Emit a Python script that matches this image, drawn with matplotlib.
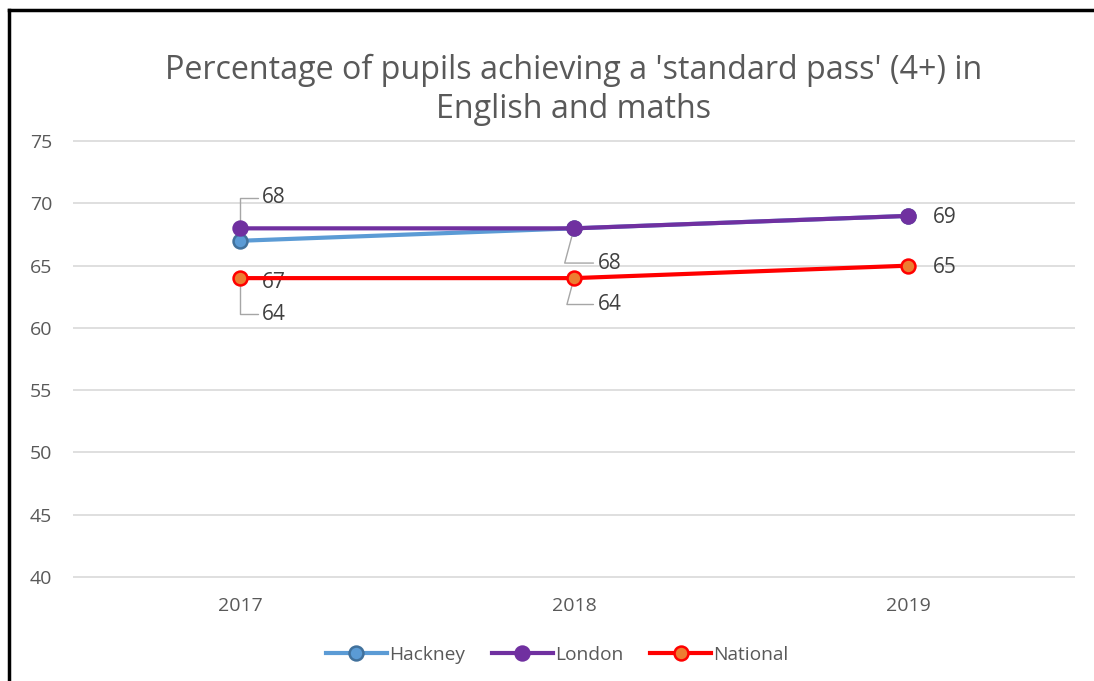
import matplotlib
matplotlib.use("Agg")
import matplotlib.pyplot as plt
from matplotlib.lines import Line2D

plt.rcParams['font.family'] = ['Open Sans', 'DejaVu Sans']

years = ["2017", "2018", "2019"]
hackney = [67, 68, 69]
london = [68, 68, 69]
national = [64, 64, 65]

title = "Percentage of pupils achieving a 'standard pass' (4+) in\nEnglish and maths"
text_grey = "#595959"
grid_grey = "#D9D9D9"

fig = plt.figure(figsize=(10.94, 6.81), dpi=100)
ax = fig.add_axes([73/1094, 1-578/681, (1075-73)/1094, (578-140)/681])

x = list(range(len(years)))
ax.plot(x, hackney, color="#5B9BD5", lw=3, marker="o", ms=10,
        mfc="#5B9BD5", mec="#41719C", mew=1.8, label="Hackney", zorder=3)
ax.plot(x, london, color="#7030A0", lw=3, marker="o", ms=10,
        mfc="#7030A0", mec="#7030A0", mew=1.8, label="London", zorder=4)
ax.plot(x, national, color="#FF0000", lw=3, marker="o", ms=10,
        mfc="#ED7D31", mec="#FF0000", mew=1.8, label="National", zorder=5)

ax.set_xlim(-0.5, 2.5)
ax.set_ylim(39.9, 75.1)
ax.set_yticks(range(40, 76, 5))
ax.set_xticks(x)
ax.set_xticklabels(years)
ax.grid(axis="y", color=grid_grey, lw=1.2)
ax.set_axisbelow(True)
for s in ax.spines.values():
    s.set_visible(False)
ax.tick_params(length=0, labelsize=14, colors=text_grey)
ax.tick_params(axis="y", pad=15)
ax.tick_params(axis="x", pad=14)

fig.text(574/1094, 1-90/681, title, ha="center", va="center",
         fontsize=23.2, color=text_grey, linespacing=1.22)

leader = dict(arrowstyle="-", color="#A6A6A6", lw=1, shrinkA=1, shrinkB=0)
lbl = dict(fontsize=15, color="#404040", ha="left", va="center",
           textcoords="offset points")

# 2017 labels
ax.annotate(str(london[0]), xy=(0, london[0]), xytext=(16, 22),
            arrowprops=dict(connectionstyle="angle,angleA=0,angleB=90", **leader), **lbl)
ax.annotate(str(hackney[0]), xy=(0, hackney[0]), xytext=(16, -30), **lbl)
ax.annotate(str(national[0]), xy=(0, national[0]), xytext=(16, -26),
            arrowprops=dict(connectionstyle="angle,angleA=0,angleB=90", **leader), **lbl)
# 2018 labels
ax.annotate(str(hackney[1]), xy=(1, hackney[1]), xytext=(17, -25),
            arrowprops=dict(connectionstyle="angle,angleA=0,angleB=75", **leader), **lbl)
ax.annotate(str(national[1]), xy=(1, national[1]), xytext=(17, -19),
            arrowprops=dict(connectionstyle="angle,angleA=0,angleB=75", **leader), **lbl)
# 2019 labels
ax.annotate(str(london[2]), xy=(2, london[2]), xytext=(18, -1.5), **lbl)
ax.annotate(str(national[2]), xy=(2, national[2]), xytext=(18, -1.5), **lbl)

fig.legend(loc="center", bbox_to_anchor=(557/1094, 1-655/681), ncol=3,
           frameon=False, fontsize=13.8, labelcolor=text_grey,
           handlelength=3.2, handletextpad=0.1, columnspacing=1.4)

# outer frame
fig.add_artist(Line2D([9/1094, 9/1094], [0, 1-10/681], color="black", lw=2.5,
                      transform=fig.transFigure))
fig.add_artist(Line2D([9/1094, 1], [1-10/681, 1-10/681], color="black", lw=2.5,
                      transform=fig.transFigure))

fig.savefig("out.png", dpi=100)
